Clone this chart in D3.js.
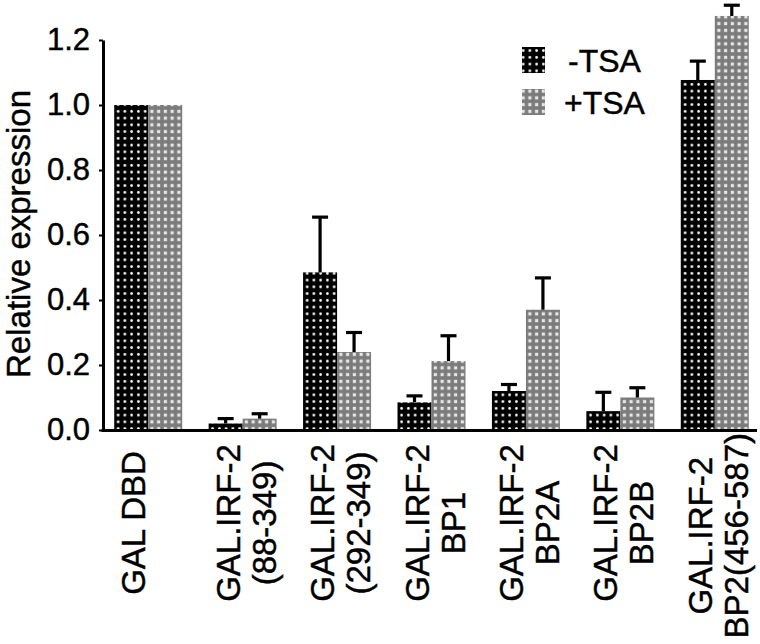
<!DOCTYPE html>
<html>
<head>
<meta charset="utf-8">
<script src="https://cdn.jsdelivr.net/npm/d3@7"></script>
<style>
  html, body { margin: 0; padding: 0; background: #fff; }
  svg { display: block; }
  text { font-family: "Liberation Sans", Arial, sans-serif; fill: #000; stroke: #000; stroke-width: 0.45px; }
</style>
</head>
<body>
<script>
// ---- data ----
const categories = [
  ["GAL DBD"],
  ["GAL.IRF-2", "(88-349)"],
  ["GAL.IRF-2", "(292-349)"],
  ["GAL.IRF-2", "BP1"],
  ["GAL.IRF-2", "BP2A"],
  ["GAL.IRF-2", "BP2B"],
  ["GAL.IRF-2", "BP2(456-587)"]
];
const seriesNames = ["-TSA", "+TSA"];
const minusTSA = [1.0, 0.02, 0.485, 0.085, 0.12, 0.058, 1.077];
const minusTSAErr = [0, 0.015, 0.17, 0.02, 0.02, 0.058, 0.058];
const plusTSA = [1.0, 0.035, 0.24, 0.212, 0.37, 0.10, 1.274];
const plusTSAErr = [0, 0.015, 0.06, 0.078, 0.098, 0.03, 0.033];
const yTicks = [0.0, 0.2, 0.4, 0.6, 0.8, 1.0, 1.2];
const yLabel = "Relative expression";

// ---- chart ----
const W = 760, H = 644;
const svg = d3.select("body").append("svg").attr("width", W).attr("height", H);

const defs = svg.append("defs");
const P = 6.75;
const pb = defs.append("pattern").attr("id", "pBlack")
  .attr("patternUnits", "userSpaceOnUse").attr("width", P).attr("height", P);
pb.append("rect").attr("width", P).attr("height", P).attr("fill", "#000");
pb.append("circle").attr("cx", P / 2).attr("cy", P / 2).attr("r", 1.35).attr("fill", "#fff");

const pg = defs.append("pattern").attr("id", "pGrey")
  .attr("patternUnits", "userSpaceOnUse").attr("width", P).attr("height", P);
pg.append("rect").attr("width", P).attr("height", P).attr("fill", "#7b7b7b");
pg.append("rect").attr("x", P / 2 - 1.6).attr("y", P / 2 - 1.6).attr("width", 3.2).attr("height", 3.2).attr("fill", "#e6e6e6");

const fills = ["url(#pBlack)", "url(#pGrey)"];

const y = d3.scaleLinear().domain([0, 1.2]).range([430, 40]);
const x0 = d3.scaleBand().domain(d3.range(categories.length))
  .range([101, 762]).paddingInner(0.28).paddingOuter(0.14);
const x1 = d3.scaleBand().domain([0, 1]).range([0, x0.bandwidth()]);

const series = [
  { vals: minusTSA, errs: minusTSAErr },
  { vals: plusTSA, errs: plusTSAErr }
];

// bars
series.forEach((s, si) => {
  const g = svg.append("g");
  g.selectAll("rect").data(s.vals).join("rect")
    .attr("x", (d, i) => x0(i) + x1(si))
    .attr("y", d => y(d))
    .attr("width", x1.bandwidth())
    .attr("height", d => y(0) - y(d))
    .attr("fill", fills[si]);
  // error bars (upward only)
  const eb = svg.append("g").attr("stroke", "#000").attr("stroke-width", 3.2);
  s.vals.forEach((v, i) => {
    const e = s.errs[i];
    if (!e) return;
    const cx = x0(i) + x1(si) + x1.bandwidth() / 2;
    eb.append("line").attr("x1", cx).attr("x2", cx).attr("y1", y(v)).attr("y2", y(v + e));
    eb.append("line").attr("x1", cx - 8).attr("x2", cx + 8).attr("y1", y(v + e)).attr("y2", y(v + e));
  });
});

// y axis
const yAxis = d3.axisLeft(y).tickValues(yTicks).tickFormat(d3.format(".1f"))
  .tickSize(4).tickSizeOuter(0).tickPadding(9);
const ga = svg.append("g").attr("transform", "translate(103,0)").call(yAxis);
ga.select(".domain").attr("stroke", "#000").attr("stroke-width", 3);
ga.selectAll(".tick line").attr("stroke", "#000").attr("stroke-width", 2);
ga.selectAll(".tick text").attr("font-size", 31).attr("font-family", "Liberation Sans, Arial, sans-serif").attr("fill", "#000");

// x axis line
svg.append("line").attr("x1", 101.5).attr("x2", 757).attr("y1", y(0) + 0.5).attr("y2", y(0) + 0.5)
  .attr("stroke", "#000").attr("stroke-width", 3.2);

// y label
svg.append("text")
  .attr("transform", `translate(30,${234}) rotate(-90)`)
  .attr("text-anchor", "middle").attr("font-size", 33)
  .text(yLabel);

// category labels (rotated, centred, kept below the axis area)
const labelG = svg.append("g");
categories.forEach((lines, i) => {
  const gc = x0(i) + x0.bandwidth() / 2;
  const texts = lines.map((l, li) => labelG.append("text")
    .attr("font-size", 33).attr("text-anchor", "middle").text(l));
  const maxLen = d3.max(texts, t => t.node().getComputedTextLength());
  const cy = Math.max(523, 433 + maxLen / 2);
  texts.forEach((t, li) => {
    t.attr("transform", `translate(${gc - 3 + li * 36},${cy}) rotate(-90)`);
  });
});

// legend
const lg = svg.append("g");
seriesNames.forEach((n, i) => {
  const yy = 47 + i * 42;
  lg.append("rect").attr("x", 522).attr("y", yy).attr("width", 23).attr("height", 26).attr("fill", fills[i]);
  lg.append("text").attr("x", i === 0 ? 568 : 564).attr("y", yy + 25).attr("font-size", 32).text(n);
});
</script>
</body>
</html>
